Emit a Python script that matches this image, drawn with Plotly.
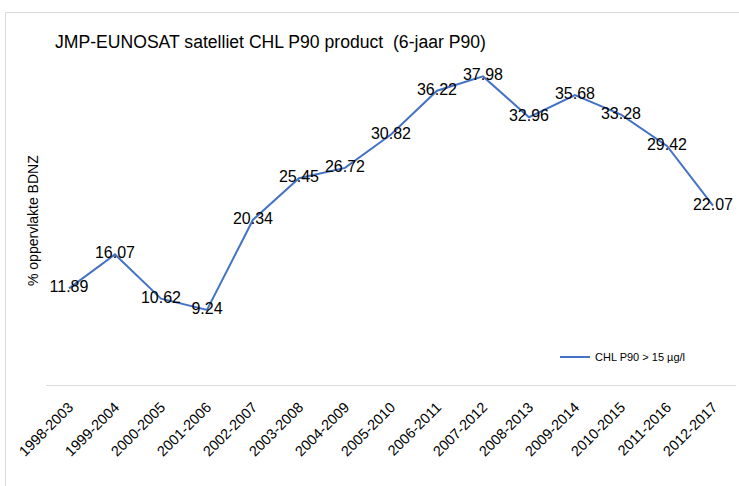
import plotly.graph_objects as go

periods = ["1998-2003", "1999-2004", "2000-2005", "2001-2006", "2002-2007",
           "2003-2008", "2004-2009", "2005-2010", "2006-2011", "2007-2012",
           "2008-2013", "2009-2014", "2010-2015", "2011-2016", "2012-2017"]
chl_p90 = [11.89, 16.07, 10.62, 9.24, 20.34, 25.45, 26.72, 30.82, 36.22, 37.98,
           32.96, 35.68, 33.28, 29.42, 22.07]

W, H = 739, 486
L, R, T, B = 46, 3, 60, 101
pw, ph = W - L - R, H - T - B

def px_x(p):
    return (p - L) / pw

def px_y(p):
    return (H - B - p) / ph

FONT = "Liberation Sans"

fig = go.Figure()
fig.add_trace(go.Scatter(
    x=periods, y=chl_p90, mode="lines+text",
    name="CHL P90 > 15 µg/l",
    line=dict(color="#4472C4", width=2),
    text=[f"{v:.2f}" for v in chl_p90],
    textposition="middle center",
    textfont=dict(family=FONT, size=16, color="#000000"),
    cliponaxis=False,
))

fig.update_layout(
    width=W, height=H,
    margin=dict(l=L, r=R, t=T, b=B, autoexpand=False),
    paper_bgcolor="white", plot_bgcolor="white",
    font=dict(family=FONT, color="#000000"),
    showlegend=True,
    legend=dict(x=px_x(555), y=px_y(357), xanchor="left", yanchor="middle",
                bgcolor="rgba(0,0,0,0)", font=dict(family=FONT, size=11),
                itemwidth=30),
    xaxis=dict(range=[-0.5, len(periods) - 0.5], showgrid=False, showline=True,
               linecolor="#d9d9d9", linewidth=1,
               ticks="", tickangle=-45, tickfont=dict(family=FONT, size=14.5),
               ticklabelstandoff=7,
               zeroline=False, automargin=False),
    yaxis=dict(range=[0, 40], showgrid=False, showline=False, showticklabels=False,
               ticks="", zeroline=False, automargin=False),
    annotations=[
        dict(text="JMP-EUNOSAT satelliet CHL P90 product  (6-jaar P90)",
             x=px_x(53), y=px_y(42), xref="paper", yref="paper",
             showarrow=False, xanchor="left", yanchor="middle",
             font=dict(family=FONT, size=17.6, color="#000000")),
        dict(text="% oppervlakte BDNZ", textangle=-90,
             x=px_x(33), y=px_y(221), xref="paper", yref="paper",
             showarrow=False, xanchor="center", yanchor="middle",
             font=dict(family=FONT, size=14, color="#000000")),
    ],
    shapes=[
        dict(type="line", xref="paper", yref="paper",
             x0=px_x(5.5), x1=px_x(760), y0=px_y(12.5), y1=px_y(12.5),
             line=dict(color="#d9d9d9", width=1)),
        dict(type="line", xref="paper", yref="paper",
             x0=px_x(5.5), x1=px_x(5.5), y0=px_y(12.5), y1=px_y(500),
             line=dict(color="#d9d9d9", width=1)),
    ],
)

fig.write_html("out.html", config={"displayModeBar": False},
               post_script="document.body.style.margin='0';document.body.style.overflow='hidden';")
